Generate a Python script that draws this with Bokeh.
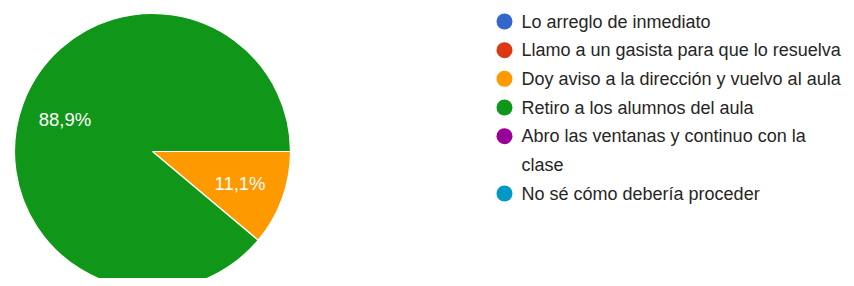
import math
from bokeh.plotting import figure
from bokeh.models import ColumnDataSource, Range1d
from bokeh.embed import file_html
from bokeh.resources import INLINE
from bokeh.core.properties import value

# ---- data ----
categories = [
    "Lo arreglo de inmediato",
    "Llamo a un gasista para que lo resuelva",
    "Doy aviso a la dirección y vuelvo al aula",
    "Retiro a los alumnos del aula",
    "Abro las ventanas y continuo con la\nclase",
    "No sé cómo debería proceder",
]
counts = [0, 0, 1, 8, 0, 0]
colors = ["#3366CC", "#DC3912", "#FF9900", "#109618", "#990099", "#0099C6"]

FONT = "Liberation Sans"
W, H = 846, 278
CX, CY, R = 152, H - 151, 138

p = figure(width=W, height=H, x_range=Range1d(0, W), y_range=Range1d(0, H),
           output_backend="svg", toolbar_location=None, min_border=0,
           x_axis_type=None, y_axis_type=None)
p.grid.visible = False
p.outline_line_color = None

total = sum(counts)
starts, ends, wcols = [], [], []
lx, ly, ltxt = [], [], []
cum = 0
for c, col in zip(counts, colors):
    if c > 0:
        a0 = -2 * math.pi * cum / total
        a1 = -2 * math.pi * (cum + c) / total
        starts.append(a0)
        ends.append(a1)
        wcols.append(col)
        mid = (a0 + a1) / 2
        lx.append(CX + 0.675 * R * math.cos(mid))
        ly.append(CY + 0.675 * R * math.sin(mid))
        ltxt.append(f"{100 * c / total:.1f}".replace(".", ",") + "%")
    cum += c

p.wedge(x=CX, y=CY, radius=R, start_angle=starts, end_angle=ends,
        direction="clock", fill_color=wcols, line_color="white", line_width=1.2)
p.text(x=lx, y=ly, text=ltxt, text_color="white", text_font=value(FONT),
       text_font_size="18.5px", text_align="center", text_baseline="middle")

# ---- legend ----
LX, LY0, STEP = 504, H - 21, 28.67
cx, cy, tx, ty, tt = [], [], [], [], []
line = 0
for cat, col in zip(categories, colors):
    parts = cat.split("\n")
    cx.append(LX)
    cy.append(LY0 - line * STEP)
    for part in parts:
        tx.append(LX + 17)
        ty.append(LY0 - line * STEP)
        tt.append(part)
        line += 1
p.scatter(x=cx, y=cy, size=16, marker="circle", fill_color=colors, line_color=None)
p.text(x=tx, y=ty, text=tt, text_color="#262626", text_font=value(FONT),
       text_font_size="18px", text_align="left", text_baseline="middle")

open("out.html", "w").write(file_html(p, INLINE))
